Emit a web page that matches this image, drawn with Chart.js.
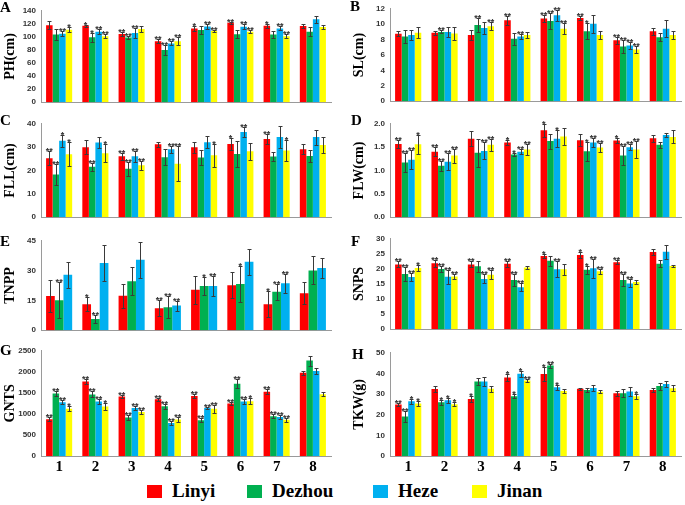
<!DOCTYPE html>
<html><head><meta charset="utf-8">
<script src="https://cdn.jsdelivr.net/npm/chart.js@4"></script>
<style>
body{margin:0;background:#fff;width:685px;height:505px;position:relative;overflow:hidden}
.p{position:absolute}
.lt{position:absolute;font:bold 15px "Liberation Serif",serif;line-height:15px;color:#000}
.lg{position:absolute;top:480px;height:22px;font:bold 19px "Liberation Serif",serif;color:#000;display:flex;align-items:center}
.sw{width:15px;height:13px;margin-right:10px}
</style></head><body>
<script>
// ---------- DATA ----------
const groups = ["1","2","3","4","5","6","7","8"];
const sites = ["Linyi","Dezhou","Heze","Jinan"];
const siteColors = ["#FF0000","#00B050","#00B0F0","#FFFF00"];

const PH_mean = [
 [118,117,104.6,93.5,113,121.6,117,116.6],
 [103.7,99.5,99,80,110.6,104,103.7,108],
 [105,108,106,90,116,115.7,113,127],
 [111,101,112,93.5,109,108,101,115]];
const PH_err = [
 [6,2,3,3,4,2,3,3],
 [8,7,2,7,6,6,6,7],
 [4,4,8,3,4,4,3,5],
 [4,3,5,6,2,2,3,3]];
const PH_sig = [
 ["","*","**","**","*","**","*",""],
 ["","*","**","**","","","",""],
 ["**","**","**","**","**","**","**",""],
 ["*","**","","**","**","**","**",""]];

const SL_mean = [
 [8.77,8.9,8.6,10.5,10.75,10.8,7.9,9.1],
 [8.4,9.0,9.9,8.1,10.4,9.1,7.1,8.3],
 [8.6,9.0,9.5,8.4,11.15,10.05,7.25,9.4],
 [8.9,8.8,9.75,8.6,9.4,8.6,6.7,8.6]];
const SL_err = [
 [0.35,0.25,0.6,0.6,0.5,0.3,0.5,0.45],
 [0.9,0.2,0.9,0.8,1.0,1.0,0.9,0.5],
 [0.6,0.6,0.8,0.3,0.7,1.2,0.5,1.1],
 [0.7,0.9,0.5,0.45,0.7,0.5,0.5,0.5]];
const SL_sig = [
 ["","","","**","**","**","**",""],
 ["","**","**","","**","*","**",""],
 ["","","","**","**","","**",""],
 ["","","**","","**","","**",""]];

const FLL_mean = [
 [25.2,30,26.1,31.2,30,31.4,33.5,29.1],
 [18.3,21.6,20.8,25.7,25.6,27.1,26,26.2],
 [32.7,32,26.1,29.1,32.1,36.5,34.3,34.3],
 [27,27.4,22.2,22.9,26.5,28.2,28.6,30.9]];
const FLL_err = [
 [3,3,1.5,1,2.3,2.5,2,2.2],
 [4.3,1.7,3,3.5,3.3,5.5,2,2.5],
 [2.5,2.5,2.3,1.5,2.5,2,4.8,3.2],
 [5,3.8,2,7.5,5,3.5,4.5,3.5]];
const FLL_sig = [
 ["**","","**","","","*","**",""],
 ["**","**","**","","","","",""],
 ["*","","**","**","","**","",""],
 ["*","*","**","**","*","","*",""]];

const FLW_mean = [
 [1.57,1.40,1.68,1.60,1.86,1.65,1.64,1.69],
 [1.17,1.10,1.38,1.34,1.63,1.41,1.32,1.55],
 [1.23,1.19,1.42,1.40,1.68,1.60,1.50,1.76],
 [1.56,1.32,1.55,1.45,1.73,1.49,1.45,1.72]];
const FLW_err = [
 [0.08,0.1,0.16,0.05,0.14,0.13,0.06,0.08],
 [0.2,0.1,0.3,0.03,0.16,0.2,0.2,0.07],
 [0.2,0.18,0.18,0.05,0.18,0.1,0.06,0.04],
 [0.2,0.15,0.13,0.12,0.18,0.1,0.18,0.14]];
const FLW_sig = [
 ["**","**","","*","*","","*",""],
 ["**","**","","*","","*","**",""],
 ["**","**","**","**","*","**","**",""],
 ["*","**","**","**","","**","**",""]];

const TNPP_mean = [
 [17.2,13.1,17.4,11.0,20.4,22.6,13.1,18.6],
 [15.1,5.6,24.6,11.6,22.2,23.3,19.3,30.1],
 [27.9,33.8,35.5,12.4,22.2,34.4,23.6,31.3]];
const TNPP_err = [
 [8,3.5,6,4,7,6.5,6.5,5.5],
 [9,2,7,5.5,4.5,9,4,7],
 [6.5,9,9,2.5,5,6.5,4.7,5]];
const TNPP_sig = [
 ["","*","","**","","","*",""],
 ["**","**","","**","*","*","**",""],
 ["","","","**","**","","**",""]];

const SNPS_mean = [
 [21.5,21.9,21.5,21.7,24.3,24.6,22.2,25.6],
 [18.3,20.0,20.9,16.3,22.7,19.7,16.3,21.7],
 [17.3,17.4,16.7,13.9,19.9,20.2,15.2,25.7],
 [20.3,17.5,18.1,20.5,19.9,19.2,15.7,21.0]];
const SNPS_err = [
 [1,1.1,1,1,0.8,1,0.6,0.9],
 [2.3,1,1.8,2,1.6,1.3,2,1.2],
 [1.2,2.3,1.5,1.3,2.7,3.1,1.3,2.3],
 [1,0.8,1.5,0.5,1.8,0.8,0.6,0.4]];
const SNPS_sig = [
 ["**","**","**","**","*","*","**",""],
 ["**","**","","**","","*","**",""],
 ["**","**","**","**","**","**","**",""],
 ["*","**","**","","","**","",""]];

const GNTS_mean = [
 [875,1772,1416,1347,1424,1246,1525,1981],
 [1486,1463,913,1184,851,1718,944,2268],
 [1277,1293,1138,782,1138,1293,929,2020],
 [1122,1176,1045,867,1122,1300,859,1470]];
const GNTS_err = [
 [40,60,40,40,50,40,60,50],
 [50,70,60,60,50,100,50,120],
 [50,50,40,40,30,50,40,80],
 [60,80,40,60,90,70,50,50]];
const GNTS_sig = [
 ["**","**","**","**","**","**","**",""],
 ["**","**","**","**","**","**","**",""],
 ["**","**","**","**","**","**","**",""],
 ["*","*","**","**","**","*","**",""]];

const TKW_mean = [
 [24.9,32.5,27.6,38.0,39.7,32.6,30.4,32.0],
 [19.1,26.0,36.1,28.9,43.8,32.0,30.4,33.9],
 [26.5,27.0,36.1,39.9,33.3,33.0,31.2,34.9],
 [25.4,25.1,32.6,36.6,31.5,31.1,28.9,32.8]];
const TKW_err = [
 [0.7,1.3,1.4,1.5,3.5,0.4,1.2,0.8],
 [2.5,1.2,1.5,0.9,1,0.8,2,1.7],
 [1.3,1.2,2,1.5,1.3,1.5,2.3,1.5],
 [1.3,1,1.5,0.7,1,0.8,1.2,1.5]];
const TKW_sig = [
 ["**","","*","*","*","","",""],
 ["**","*","","*","**","","",""],
 ["*","*","","*","*","","",""],
 ["*","*","","**","","","*",""]];

// ---------- LAYOUT ----------
const panels = [
 {L:'A',t:'PH(cm)', m:PH_mean, e:PH_err, s:PH_sig, max:140, step:20, dec:0, col:0, top:1,  bottom:110, lx:0,   ly:0},
 {L:'B',t:'SL(cm)', m:SL_mean, e:SL_err, s:SL_sig, max:12, step:2, dec:0, col:1, top:-1, bottom:109, lx:350, ly:-1},
 {L:'C',t:'FLL(cm)',m:FLL_mean,e:FLL_err,s:FLL_sig,max:40, step:10,dec:0, col:0, top:114,bottom:225, lx:0,   ly:113},
 {L:'D',t:'FLW(cm)',m:FLW_mean,e:FLW_err,s:FLW_sig,max:2, step:0.5,dec:1,col:1, top:114,bottom:225, lx:351, ly:113},
 {L:'E',t:'TNPP',   m:TNPP_mean,e:TNPP_err,s:TNPP_sig,max:45,step:15,dec:0,col:0, top:231,bottom:338, lx:0,   ly:234},
 {L:'F',t:'SNPS',   m:SNPS_mean,e:SNPS_err,s:SNPS_sig,max:30,step:5,dec:0, col:1, top:229,bottom:337, lx:351, ly:234},
 {L:'G',t:'GNTS',   m:GNTS_mean,e:GNTS_err,s:GNTS_sig,max:2500,step:500,dec:0,col:0,top:341,bottom:456,lx:0,ly:343,xl:true},
 {L:'H',t:'TKW(g)', m:TKW_mean,e:TKW_err,s:TKW_sig,max:50,step:10,dec:0, col:1, top:343,bottom:456, lx:352, ly:347,xl:true}
];
const cols = [{left:0,w:332,yw:41,tp:2},{left:345,w:337,yw:45,tp:6}];

const errPlugin = {
  id:'err',
  afterDatasetsDraw(chart){
    const ctx = chart.ctx, ys = chart.scales.y;
    chart.data.datasets.forEach((ds,di)=>{
      const meta = chart.getDatasetMeta(di);
      meta.data.forEach((bar,i)=>{
        const v = ds.data[i], e = ds.err[i];
        const yt = Math.round(ys.getPixelForValue(v+e))+0.5;
        const yb = Math.round(ys.getPixelForValue(v-e))+0.5;
        const x = Math.round(bar.x)+0.5;
        ctx.save();
        ctx.strokeStyle = '#3a3a3a'; ctx.lineWidth = 1;
        ctx.beginPath();
        ctx.moveTo(x,yt); ctx.lineTo(x,yb);
        ctx.moveTo(x-2,yt); ctx.lineTo(x+2,yt);
        ctx.moveTo(x-2,yb); ctx.lineTo(x+2,yb);
        ctx.stroke();
        const s = ds.sig[i];
        if (s) {
          ctx.fillStyle = '#333333';
          ctx.font = 'bold 9px "Liberation Sans", Arial, sans-serif';
          ctx.textAlign = 'center'; ctx.textBaseline = 'alphabetic';
          ctx.fillText(s, bar.x, yt + 2);
        }
        ctx.restore();
      });
    });
  }
};

panels.forEach(p=>{
  const c = cols[p.col];
  const xh = p.xl ? 22 : 2;
  const h = p.bottom + xh - p.top;
  const div = document.createElement('div');
  div.className = 'p';
  div.style.left = c.left+'px'; div.style.top = p.top+'px';
  div.style.width = c.w+'px'; div.style.height = h+'px';
  const cv = document.createElement('canvas');
  div.appendChild(cv);
  document.body.appendChild(div);
  const lt = document.createElement('div');
  lt.className = 'lt'; lt.textContent = p.L;
  lt.style.left = p.lx+'px'; lt.style.top = p.ly+'px';
  document.body.appendChild(lt);

  const datasets = p.m.map((arr,k)=>({
    label: sites[k], data: arr, err: p.e[k], sig: p.s[k],
    backgroundColor: siteColors[k], borderWidth: 0,
    categoryPercentage: 0.72, barPercentage: 1.0
  }));
  new Chart(cv, {
    type:'bar',
    data:{labels:groups, datasets},
    options:{
      responsive:true, maintainAspectRatio:false, animation:false,
      layout:{padding:{top:8, right:1, left:0, bottom:0}},
      plugins:{legend:{display:false}, tooltip:{enabled:false}},
      scales:{
        x:{
          grid:{display:false, drawTicks:false},
          border:{display:true,color:'#9a9a9a',width:1},
          ticks:{display:!!p.xl, padding:2, color:'#000',
                 font:{family:'"Liberation Serif", serif', size:15, weight:'bold'}},
          afterFit(s){ s.height = xh; }
        },
        y:{
          min:0, max:p.max,
          grid:{display:false, drawTicks:false},
          border:{display:true,color:'#9a9a9a',width:1},
          ticks:{stepSize:p.step, padding:5, color:'#333333',
                 font:{family:'"Liberation Sans", Arial, sans-serif', size:8, weight:'bold'},
                 callback:(v)=>Number(v).toFixed(p.dec)},
          title:{display:true, text:p.t, color:'#000', padding:{top:c.tp,bottom:0},
                 font:{family:'"Liberation Serif", serif', size:14, weight:'bold'}},
          afterFit(s){ s.width = c.yw; }
        }
      }
    },
    plugins:[errPlugin]
  });
});

// legend
const legPos = [147,247,373,472];
sites.forEach((s,k)=>{
  const d = document.createElement('div');
  d.className = 'lg'; d.style.left = legPos[k]+'px';
  d.innerHTML = '<span class="sw" style="background:'+siteColors[k]+'"></span><span>'+s+'</span>';
  document.body.appendChild(d);
});
</script>
</body></html>
